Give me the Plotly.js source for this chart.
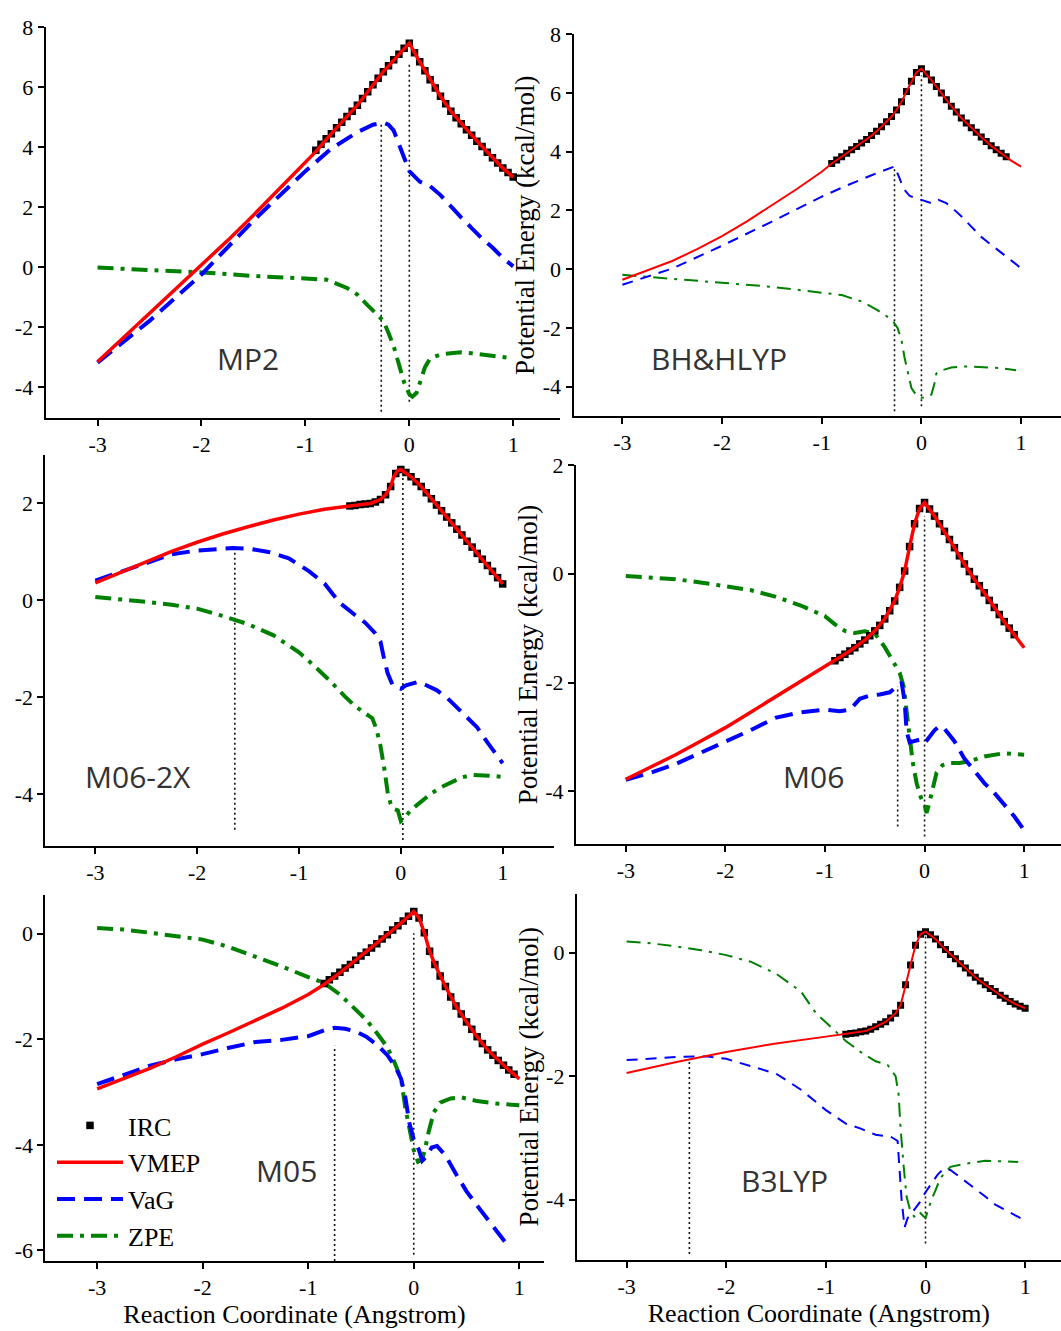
<!DOCTYPE html>
<html>
<head>
<meta charset="utf-8">
<script src="https://cdn.plot.ly/plotly-3.0.1.min.js"></script>
<style>html,body{margin:0;padding:0;background:#fff;}#chart{width:1061px;height:1331px;}</style>
</head>
<body>
<div id="chart"></div>
<script>
// ---------------- DATA ----------------
const panelNames = ['MP2', 'BH&HLYP', 'M06-2X', 'M06', 'M05', 'B3LYP'];
const seriesNames = ['IRC', 'VMEP', 'VaG', 'ZPE'];
const xTickVals = [-3, -2, -1, 0, 1];
const xTickText = ['-3', '-2', '-1', '0', '1'];
const yTicks_mp2 = [-4, -2, 0, 2, 4, 6, 8];
const yTicks_bh = [-4, -2, 0, 2, 4, 6, 8];
const yTicks_m62 = [-4, -2, 0, 2];
const yTicks_m06 = [-4, -2, 0, 2];
const yTicks_m05 = [-6, -4, -2, 0];
const yTicks_b3 = [-4, -2, 0];

// MP2
const mp2_vmep_x = [-3,-2.75,-2.5,-2.25,-2,-1.75,-1.5,-1.25,-1,-0.9,-0.75,-0.5,-0.25,-0.1,0,0.1,0.2,0.3,0.4,0.5,0.6,0.7,0.8,0.9,1.0];
const mp2_vmep_y = [-3.16,-2.36,-1.56,-0.76,0.04,0.88,1.73,2.6,3.47,3.85,4.45,5.4,6.52,7.1,7.47,6.85,6.25,5.7,5.2,4.78,4.4,4.02,3.65,3.3,3.0];
const mp2_vag_x = [-3,-2.5,-2,-1.5,-1,-0.75,-0.5,-0.35,-0.25,-0.2,-0.15,-0.1,-0.05,0,0.1,0.2,0.3,0.4,0.5,0.6,0.7,0.8,0.9,1.0];
const mp2_vag_y = [-3.19,-1.8,-0.25,1.55,3.2,3.95,4.5,4.75,4.82,4.75,4.55,4.1,3.6,3.2,2.85,2.7,2.4,2.0,1.65,1.3,0.95,0.65,0.3,0.02];
const mp2_zpe_x = [-3,-2.5,-2,-1.5,-1,-0.8,-0.6,-0.5,-0.4,-0.3,-0.25,-0.2,-0.15,-0.1,-0.05,0,0.03,0.07,0.1,0.15,0.2,0.3,0.4,0.5,0.6,0.7,0.8,0.9,1.0];
const mp2_zpe_y = [-0.02,-0.1,-0.18,-0.3,-0.38,-0.42,-0.7,-0.92,-1.28,-1.6,-1.8,-2.2,-2.65,-3.25,-3.85,-4.25,-4.33,-4.2,-3.9,-3.35,-3.05,-2.92,-2.88,-2.85,-2.88,-2.92,-2.98,-3.02,-3.05];
const mp2_irc_x = [-0.9,-0.85,-0.8,-0.75,-0.7,-0.65,-0.6,-0.55,-0.5,-0.45,-0.4,-0.35,-0.3,-0.25,-0.2,-0.15,-0.1,-0.05,0,0.05,0.1,0.15,0.2,0.25,0.3,0.35,0.4,0.45,0.5,0.55,0.6,0.65,0.7,0.75,0.8,0.85,0.9,0.95,1.0];
const mp2_irc_y = [3.9,4.1,4.28,4.45,4.65,4.83,5.02,5.2,5.4,5.62,5.85,6.08,6.3,6.52,6.72,6.92,7.1,7.3,7.47,7.15,6.85,6.55,6.25,5.97,5.7,5.45,5.2,4.98,4.78,4.58,4.4,4.2,4.02,3.83,3.65,3.47,3.3,3.15,3.0];
const mp2_mark_x = [-0.27, 0];
const mp2_mark_top = [4.8, 6.75];
const mp2_mark_bottom = [-4.83, -4.5];

// BH&HLYP
const bh_vmep_x = [-3,-2.75,-2.5,-2.25,-2,-1.75,-1.5,-1.25,-1,-0.9,-0.75,-0.6,-0.5,-0.4,-0.3,-0.25,-0.2,-0.15,-0.1,-0.05,0,0.1,0.2,0.3,0.4,0.5,0.6,0.7,0.8,0.9,1.0];
const bh_vmep_y = [-0.36,-0.05,0.28,0.68,1.13,1.63,2.17,2.73,3.32,3.6,3.95,4.3,4.55,4.85,5.2,5.42,5.7,6.05,6.4,6.7,6.83,6.44,6.0,5.55,5.15,4.82,4.5,4.2,3.95,3.7,3.49];
const bh_vag_x = [-3,-2.5,-2,-1.5,-1,-0.75,-0.5,-0.35,-0.27,-0.22,-0.18,-0.12,-0.05,0,0.1,0.17,0.25,0.33,0.4,0.5,0.6,0.7,0.8,0.9,1.0];
const bh_vag_y = [-0.53,0.02,0.8,1.62,2.47,2.85,3.2,3.38,3.5,3.1,2.75,2.5,2.4,2.36,2.25,2.36,2.25,2.02,1.8,1.45,1.1,0.83,0.55,0.3,0.03];
const bh_zpe_x = [-3,-2.5,-2,-1.5,-1,-0.8,-0.6,-0.45,-0.35,-0.28,-0.24,-0.2,-0.17,-0.14,-0.1,-0.05,0,0.05,0.1,0.13,0.15,0.2,0.3,0.45,0.6,0.8,0.95];
const bh_zpe_y = [-0.19,-0.33,-0.45,-0.6,-0.8,-0.88,-1.1,-1.38,-1.6,-1.8,-2.0,-2.4,-3.0,-3.5,-4.05,-4.3,-4.38,-4.35,-4.27,-3.9,-3.55,-3.45,-3.35,-3.31,-3.33,-3.37,-3.44];
const bh_irc_x = [-0.9,-0.85,-0.8,-0.75,-0.7,-0.65,-0.6,-0.55,-0.5,-0.45,-0.4,-0.35,-0.3,-0.25,-0.2,-0.15,-0.1,-0.05,0,0.05,0.1,0.15,0.2,0.25,0.3,0.35,0.4,0.45,0.5,0.55,0.6,0.65,0.7,0.75,0.8,0.85];
const bh_irc_y = [3.6,3.72,3.83,3.95,4.07,4.18,4.3,4.42,4.55,4.7,4.85,5.02,5.2,5.42,5.7,6.05,6.4,6.7,6.83,6.65,6.44,6.22,6.0,5.77,5.55,5.35,5.15,4.98,4.82,4.66,4.5,4.35,4.2,4.07,3.95,3.83];
const bh_mark_x = [-0.27, 0];
const bh_mark_top = [3.43, 6.6];
const bh_mark_bottom = [-4.84, -4.67];

// M06-2X
const m62_vmep_x = [-3,-2.75,-2.5,-2.25,-2,-1.75,-1.5,-1.25,-1,-0.75,-0.5,-0.4,-0.3,-0.2,-0.15,-0.1,-0.07,-0.03,0,0.1,0.2,0.3,0.4,0.5,0.6,0.7,0.8,0.9,1.0];
const m62_vmep_y = [0.36,0.58,0.8,1.01,1.2,1.37,1.52,1.66,1.78,1.88,1.95,1.98,2.0,2.08,2.18,2.35,2.55,2.68,2.7,2.55,2.35,2.1,1.85,1.6,1.35,1.1,0.85,0.6,0.34];
const m62_vag_x = [-3,-2.75,-2.5,-2.25,-2,-1.8,-1.65,-1.5,-1.3,-1.1,-0.9,-0.75,-0.6,-0.45,-0.35,-0.25,-0.2,-0.17,-0.13,-0.08,-0.03,0,0.05,0.1,0.17,0.25,0.35,0.45,0.55,0.65,0.75,0.85,0.95,1.0];
const m62_vag_y = [0.41,0.59,0.76,0.95,1.03,1.07,1.08,1.07,1.0,0.87,0.6,0.35,-0.05,-0.3,-0.46,-0.68,-0.85,-1.15,-1.5,-1.75,-1.8,-1.82,-1.75,-1.72,-1.68,-1.75,-1.85,-2.0,-2.2,-2.4,-2.62,-2.93,-3.22,-3.36];
const m62_zpe_x = [-3,-2.75,-2.5,-2.25,-2,-1.75,-1.5,-1.25,-1,-0.85,-0.7,-0.55,-0.45,-0.35,-0.28,-0.24,-0.2,-0.16,-0.13,-0.1,-0.07,-0.03,0,0.05,0.1,0.2,0.3,0.4,0.5,0.6,0.7,0.8,0.9,1.0];
const m62_zpe_y = [0.07,0.03,-0.03,-0.09,-0.17,-0.32,-0.49,-0.72,-1.07,-1.35,-1.65,-1.98,-2.18,-2.33,-2.43,-2.65,-3.0,-3.5,-3.95,-4.2,-4.3,-4.33,-4.55,-4.45,-4.32,-4.15,-3.98,-3.85,-3.75,-3.65,-3.6,-3.6,-3.62,-3.64];
const m62_irc_x = [-0.5,-0.45,-0.4,-0.35,-0.3,-0.25,-0.2,-0.15,-0.1,-0.05,0,0.05,0.1,0.15,0.2,0.25,0.3,0.35,0.4,0.45,0.5,0.55,0.6,0.65,0.7,0.75,0.8,0.85,0.9,0.95,1.0];
const m62_irc_y = [1.95,1.96,1.98,1.99,2.0,2.03,2.08,2.18,2.35,2.62,2.7,2.64,2.55,2.45,2.35,2.22,2.1,1.97,1.85,1.72,1.6,1.47,1.35,1.22,1.1,0.97,0.85,0.72,0.6,0.47,0.34];
const m62_mark_x = [-1.63, 0.02];
const m62_mark_top = [1.03, 2.57];
const m62_mark_bottom = [-4.73, -4.94];

// M06
const m06_vmep_x = [-3,-2.75,-2.5,-2.25,-2,-1.75,-1.5,-1.25,-1,-0.9,-0.75,-0.6,-0.5,-0.4,-0.3,-0.25,-0.2,-0.15,-0.1,-0.05,0,0.1,0.2,0.3,0.4,0.5,0.6,0.7,0.8,0.9,1.0];
const m06_vmep_y = [-3.78,-3.56,-3.33,-3.08,-2.83,-2.55,-2.27,-1.98,-1.7,-1.6,-1.42,-1.22,-1.05,-0.83,-0.5,-0.25,0.05,0.5,0.92,1.2,1.31,1.06,0.78,0.48,0.18,-0.1,-0.35,-0.62,-0.88,-1.12,-1.36];
const m06_vag_x = [-3,-2.75,-2.5,-2.25,-2,-1.75,-1.5,-1.25,-1.0,-0.85,-0.75,-0.65,-0.55,-0.45,-0.35,-0.27,-0.23,-0.2,-0.18,-0.15,-0.1,-0.05,0,0.05,0.1,0.15,0.2,0.3,0.4,0.5,0.6,0.7,0.8,0.9,1.0];
const m06_vag_y = [-3.79,-3.66,-3.5,-3.3,-3.08,-2.88,-2.65,-2.55,-2.5,-2.53,-2.5,-2.3,-2.24,-2.22,-2.18,-2.05,-2.0,-2.35,-2.9,-3.1,-3.08,-3.05,-3.12,-3.0,-2.88,-2.8,-2.85,-3.08,-3.4,-3.62,-3.85,-4.03,-4.25,-4.46,-4.72];
const m06_zpe_x = [-3,-2.75,-2.5,-2.25,-2,-1.75,-1.5,-1.25,-1.0,-0.9,-0.8,-0.7,-0.6,-0.5,-0.4,-0.3,-0.25,-0.21,-0.18,-0.15,-0.12,-0.08,-0.04,0,0.02,0.05,0.08,0.12,0.18,0.25,0.35,0.45,0.6,0.8,1.0];
const m06_zpe_y = [-0.04,-0.07,-0.1,-0.16,-0.23,-0.3,-0.42,-0.58,-0.78,-0.93,-1.05,-1.09,-1.06,-1.1,-1.35,-1.65,-1.82,-2.07,-2.5,-2.95,-3.45,-3.85,-4.1,-4.25,-4.4,-4.2,-3.95,-3.66,-3.52,-3.48,-3.48,-3.45,-3.36,-3.3,-3.33];
const m06_irc_x = [-0.9,-0.85,-0.8,-0.75,-0.7,-0.65,-0.6,-0.55,-0.5,-0.45,-0.4,-0.35,-0.3,-0.25,-0.2,-0.15,-0.1,-0.05,0,0.05,0.1,0.15,0.2,0.25,0.3,0.35,0.4,0.45,0.5,0.55,0.6,0.65,0.7,0.75,0.8,0.85,0.9];
const m06_irc_y = [-1.6,-1.54,-1.48,-1.42,-1.36,-1.29,-1.22,-1.14,-1.05,-0.95,-0.83,-0.68,-0.5,-0.25,0.05,0.5,0.92,1.2,1.31,1.19,1.06,0.92,0.78,0.63,0.48,0.33,0.18,0.04,-0.1,-0.22,-0.35,-0.49,-0.62,-0.75,-0.88,-1.0,-1.12];
const m06_mark_x = [-0.27, 0];
const m06_mark_top = [-2.07, 1.06];
const m06_mark_bottom = [-4.65, -4.83];

// M05
const m05_vmep_x = [-3,-2.75,-2.5,-2.25,-2,-1.75,-1.5,-1.25,-1,-0.85,-0.7,-0.55,-0.4,-0.3,-0.2,-0.1,0,0.05,0.1,0.15,0.2,0.3,0.4,0.5,0.6,0.7,0.8,0.9,1.0];
const m05_vmep_y = [-2.94,-2.75,-2.55,-2.33,-2.09,-1.87,-1.64,-1.41,-1.15,-0.96,-0.74,-0.5,-0.27,-0.1,0.07,0.24,0.42,0.3,0.02,-0.33,-0.58,-1.0,-1.37,-1.67,-1.95,-2.2,-2.4,-2.58,-2.75];
const m05_vag_x = [-3,-2.75,-2.5,-2.25,-2,-1.75,-1.5,-1.25,-1,-0.85,-0.75,-0.65,-0.55,-0.45,-0.35,-0.25,-0.18,-0.12,-0.08,-0.04,0,0.05,0.08,0.12,0.17,0.22,0.3,0.4,0.5,0.6,0.7,0.8,0.87];
const m05_vag_y = [-2.85,-2.68,-2.5,-2.38,-2.28,-2.16,-2.05,-2.01,-1.94,-1.83,-1.78,-1.8,-1.85,-1.95,-2.1,-2.3,-2.5,-2.75,-3.1,-3.6,-3.9,-4.1,-4.3,-4.22,-4.05,-4.02,-4.2,-4.55,-4.88,-5.15,-5.4,-5.65,-5.85];
const m05_zpe_x = [-3,-2.75,-2.5,-2.25,-2,-1.75,-1.5,-1.25,-1,-0.85,-0.7,-0.55,-0.45,-0.35,-0.25,-0.18,-0.12,-0.08,-0.04,0,0.04,0.08,0.11,0.14,0.19,0.25,0.35,0.45,0.6,0.8,1.0];
const m05_zpe_y = [0.11,0.08,0.02,-0.04,-0.11,-0.25,-0.43,-0.62,-0.82,-0.93,-1.15,-1.43,-1.63,-1.88,-2.15,-2.45,-2.75,-3.3,-3.75,-4.1,-4.32,-4.28,-4.05,-3.76,-3.38,-3.2,-3.12,-3.1,-3.17,-3.22,-3.25];
const m05_irc_x = [-0.85,-0.8,-0.75,-0.7,-0.65,-0.6,-0.55,-0.5,-0.45,-0.4,-0.35,-0.3,-0.25,-0.2,-0.15,-0.1,-0.05,0,0.05,0.1,0.15,0.2,0.25,0.3,0.35,0.4,0.45,0.5,0.55,0.6,0.65,0.7,0.75,0.8,0.85,0.9,0.95];
const m05_irc_y = [-0.94,-0.87,-0.8,-0.73,-0.65,-0.58,-0.5,-0.42,-0.35,-0.27,-0.19,-0.1,-0.02,0.07,0.15,0.24,0.33,0.42,0.3,0.02,-0.33,-0.58,-0.8,-1.0,-1.2,-1.37,-1.52,-1.67,-1.81,-1.95,-2.08,-2.2,-2.3,-2.4,-2.49,-2.58,-2.66];
const m05_mark_x = [-0.75, 0];
const m05_mark_top = [-2.12, 0.01];
const m05_mark_bottom = [-6.2, -6.08];

// B3LYP
const b3_vmep_x = [-3,-2.5,-2,-1.5,-1,-0.8,-0.6,-0.5,-0.4,-0.3,-0.25,-0.22,-0.19,-0.15,-0.1,-0.05,0,0.1,0.2,0.3,0.4,0.5,0.6,0.7,0.8,0.9,1.0];
const b3_vmep_y = [-1.95,-1.77,-1.61,-1.47,-1.36,-1.32,-1.27,-1.2,-1.12,-0.98,-0.85,-0.66,-0.44,-0.2,0.12,0.3,0.34,0.22,0.05,-0.1,-0.25,-0.4,-0.52,-0.63,-0.74,-0.83,-0.9];
const b3_vag_x = [-3,-2.5,-2.2,-2,-1.75,-1.5,-1.25,-1,-0.8,-0.65,-0.5,-0.35,-0.28,-0.26,-0.24,-0.21,-0.18,-0.12,-0.06,0,0.06,0.12,0.18,0.25,0.3,0.4,0.5,0.6,0.7,0.8,0.9,1.0];
const b3_vag_y = [-1.74,-1.69,-1.68,-1.72,-1.84,-1.96,-2.22,-2.55,-2.77,-2.85,-2.95,-2.98,-3.05,-3.5,-4.0,-4.45,-4.3,-4.18,-4.05,-3.88,-3.74,-3.6,-3.5,-3.52,-3.58,-3.7,-3.82,-3.95,-4.08,-4.17,-4.26,-4.34];
const b3_zpe_x = [-3,-2.75,-2.5,-2.25,-2,-1.75,-1.5,-1.25,-1.1,-0.95,-0.8,-0.65,-0.5,-0.38,-0.3,-0.27,-0.25,-0.22,-0.19,-0.15,-0.1,-0.05,0,0.03,0.06,0.1,0.15,0.25,0.4,0.6,0.8,0.93];
const b3_zpe_y = [0.18,0.15,0.1,0.04,-0.04,-0.15,-0.34,-0.63,-0.98,-1.2,-1.43,-1.61,-1.76,-1.82,-2.0,-2.3,-2.85,-3.45,-3.95,-4.2,-4.3,-4.22,-4.3,-4.15,-4.0,-3.85,-3.65,-3.47,-3.42,-3.37,-3.38,-3.39];
const b3_irc_x = [-0.8,-0.75,-0.7,-0.65,-0.6,-0.55,-0.5,-0.45,-0.4,-0.35,-0.3,-0.25,-0.2,-0.15,-0.1,-0.05,0,0.05,0.1,0.15,0.2,0.25,0.3,0.35,0.4,0.45,0.5,0.55,0.6,0.65,0.7,0.75,0.8,0.85,0.9,0.95,1.0];
const b3_irc_y = [-1.32,-1.31,-1.3,-1.28,-1.27,-1.24,-1.2,-1.16,-1.12,-1.06,-0.98,-0.85,-0.52,-0.2,0.12,0.3,0.34,0.29,0.22,0.13,0.05,-0.03,-0.1,-0.18,-0.25,-0.33,-0.4,-0.46,-0.52,-0.58,-0.63,-0.69,-0.74,-0.79,-0.83,-0.87,-0.9];
const b3_mark_x = [-2.37, 0];
const b3_mark_top = [-1.74, 0.26];
const b3_mark_bottom = [-4.88, -4.71];

// ---------------- LAYOUT GEOMETRY (pixels) ----------------
const W = 1061, H = 1331;
const px = v => v / W;
const py = v => 1 - v / H;

const panels = [
  {data: {irc:[mp2_irc_x,mp2_irc_y], vmep:[mp2_vmep_x,mp2_vmep_y], vag:[mp2_vag_x,mp2_vag_y], zpe:[mp2_zpe_x,mp2_zpe_y], mark:[mp2_mark_x,mp2_mark_top,mp2_mark_bottom]},
   yticks: yTicks_mp2, box:[45.6, 560, 27.3, 417.7], xr:[-3.5, 1.45], yr:[-5.03, 8], thin:false, ytitle:false, xtitle:false, label:[247.5, 358.3]},
  {data: {irc:[bh_irc_x,bh_irc_y], vmep:[bh_vmep_x,bh_vmep_y], vag:[bh_vag_x,bh_vag_y], zpe:[bh_zpe_x,bh_zpe_y], mark:[bh_mark_x,bh_mark_top,bh_mark_bottom]},
   yticks: yTicks_bh, box:[573.5, 1061, 34.3, 416], xr:[-3.49, 1.40], yr:[-5.0, 8], thin:true, ytitle:true, xtitle:false, label:[719, 358]},
  {data: {irc:[m62_irc_x,m62_irc_y], vmep:[m62_vmep_x,m62_vmep_y], vag:[m62_vag_x,m62_vag_y], zpe:[m62_zpe_x,m62_zpe_y], mark:[m62_mark_x,m62_mark_top,m62_mark_bottom]},
   yticks: yTicks_m62, box:[45.4, 553.6, 455, 845.7], xr:[-3.49, 1.50], yr:[-5.06, 3.0], thin:false, ytitle:false, xtitle:false, label:[137.5, 776]},
  {data: {irc:[m06_irc_x,m06_irc_y], vmep:[m06_vmep_x,m06_vmep_y], vag:[m06_vag_x,m06_vag_y], zpe:[m06_zpe_x,m06_zpe_y], mark:[m06_mark_x,m06_mark_top,m06_mark_bottom]},
   yticks: yTicks_m06, box:[576, 1061, 465, 844], xr:[-3.50, 1.37], yr:[-4.97, 2.0], thin:false, ytitle:true, xtitle:false, label:[813, 776]},
  {data: {irc:[m05_irc_x,m05_irc_y], vmep:[m05_vmep_x,m05_vmep_y], vag:[m05_vag_x,m05_vag_y], zpe:[m05_zpe_x,m05_zpe_y], mark:[m05_mark_x,m05_mark_top,m05_mark_bottom]},
   yticks: yTicks_m05, box:[45.4, 543.6, 895, 1261], xr:[-3.49, 1.23], yr:[-6.2, 0.735], thin:false, ytitle:false, xtitle:true, label:[286.4, 1170]},
  {data: {irc:[b3_irc_x,b3_irc_y], vmep:[b3_vmep_x,b3_vmep_y], vag:[b3_vag_x,b3_vag_y], zpe:[b3_zpe_x,b3_zpe_y], mark:[b3_mark_x,b3_mark_top,b3_mark_bottom]},
   yticks: yTicks_b3, box:[576.8, 1061, 894, 1259.5], xr:[-3.50, 1.36], yr:[-4.97, 0.95], thin:true, ytitle:true, xtitle:true, label:[784, 1180]}
];

const SERIF = 'Liberation Serif';
const traces = [];
const layout = {
  width: W, height: H,
  margin: {l:0, r:0, t:0, b:0},
  paper_bgcolor: '#ffffff',
  plot_bgcolor: 'rgba(0,0,0,0)',
  showlegend: true,
  legend: {
    x: px(52), xanchor: 'left', y: py(1102), yanchor: 'top',
    font: {family: SERIF, size: 26, color: '#000'},
    itemwidth: 66, bgcolor: 'rgba(0,0,0,0)', borderwidth: 0,
    traceorder: 'normal', itemclick: false, itemdoubleclick: false
  },
  annotations: [],
  font: {family: SERIF, color: '#000'}
};

panels.forEach((p, i) => {
  const n = i + 1;
  const xa = n === 1 ? 'x' : 'x' + n;
  const ya = n === 1 ? 'y' : 'y' + n;
  const first = (i === 0);
  const lw = p.thin ? {vmep:2, vag:2, zpe:2} : {vmep:3.5, vag:4, zpe:4};
  const dashVag = p.thin ? '11px,8px' : '18px,9px';
  const dashZpe = p.thin ? '14px,7px,3px,7px' : '16px,7px,4px,7px';

  // dotted reference lines
  const mk = p.data.mark;
  mk[0].forEach((xv, k) => {
    traces.push({x:[xv, xv], y:[mk[2][k], mk[1][k]], xaxis:xa, yaxis:ya, mode:'lines',
      line:{color:'#111', width:1.6, dash:'2px,3px'}, showlegend:false, hoverinfo:'skip'});
  });
  traces.push({x:p.data.zpe[0], y:p.data.zpe[1], xaxis:xa, yaxis:ya, mode:'lines', name:seriesNames[3],
    line:{color:'#008000', width:lw.zpe, dash:dashZpe}, showlegend:first, legendrank:4});
  traces.push({x:p.data.vag[0], y:p.data.vag[1], xaxis:xa, yaxis:ya, mode:'lines', name:seriesNames[2],
    line:{color:'#0000ff', width:lw.vag, dash:dashVag}, showlegend:first, legendrank:3});
  traces.push({x:p.data.irc[0], y:p.data.irc[1], xaxis:xa, yaxis:ya, mode:'markers', name:seriesNames[0],
    marker:{symbol:'square', size: p.thin ? 7 : 7.5, color:'#000'}, showlegend:first, legendrank:1});
  traces.push({x:p.data.vmep[0], y:p.data.vmep[1], xaxis:xa, yaxis:ya, mode:'lines', name:seriesNames[1],
    line:{color:'#ff0000', width:lw.vmep}, showlegend:first, legendrank:2});

  const [l, r, t, b] = p.box;
  const axCommon = {
    showline:true, linecolor:'#000', linewidth:2, ticks:'outside', ticklen:6, tickwidth:2, tickcolor:'#000',
    showgrid:false, zeroline:false, automargin:false, fixedrange:true
  };
  layout['xaxis' + (n === 1 ? '' : n)] = Object.assign({}, axCommon, {
    domain:[px(l), px(r)], range:p.xr, anchor:ya, tickmode:'array', tickvals:xTickVals, ticktext:xTickText,
    tickfont:{family:SERIF, size:22, color:'#000'},
    title: p.xtitle ? {text:'Reaction Coordinate (Angstrom)', font:{family:SERIF, size:26, color:'#000'}, standoff:3} : {text:''}
  });
  layout['yaxis' + (n === 1 ? '' : n)] = Object.assign({}, axCommon, {
    domain:[py(b), py(t)], range:p.yr, anchor:xa, tickmode:'array', tickvals:p.yticks, ticktext:p.yticks.map(String),
    tickfont:{family:SERIF, size:22, color:'#000'},
    title: p.ytitle ? {text:'Potential Energy (kcal/mol)', font:{family:SERIF, size:27, color:'#000'}, standoff:0} : {text:''}
  });
  layout.annotations.push({
    text: panelNames[i], xref:'paper', yref:'paper', x:px(p.label[0]), y:py(p.label[1]),
    xanchor:'center', yanchor:'middle', showarrow:false,
    font:{family:'Open Sans', size:30, color:'#333'}
  });
});

Plotly.newPlot('chart', traces, layout, {displayModeBar:false, responsive:false});
</script>
</body>
</html>
